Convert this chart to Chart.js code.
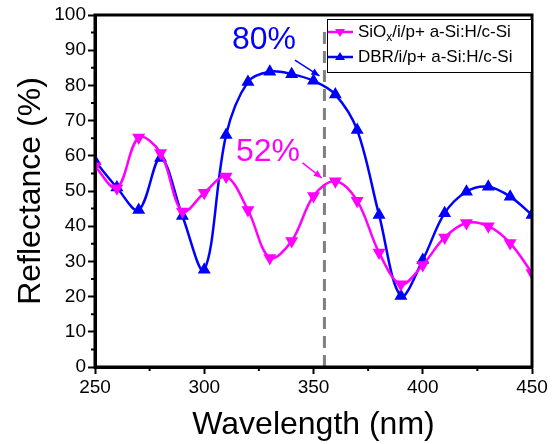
<!DOCTYPE html>
<html>
<head>
<meta charset="utf-8">
<script src="https://cdn.jsdelivr.net/npm/chart.js@4/dist/chart.umd.min.js"></script>
<style>
html,body{margin:0;padding:0;background:#fff;}
#wrap{width:556px;height:444px;position:relative;}
</style>
</head>
<body>
<div id="wrap"><canvas id="c" width="556" height="444"></canvas></div>
<script>
const wavelengths = [250,260,270,280,290,300,310,320,330,340,350,360,370,380,390,400,410,420,430,440,450];
const sioxValues  = [57,50.8,65.2,60.8,44.2,49.5,54.1,44.6,31,35.8,48.6,52.8,47.2,32.5,23.5,29,36.8,40.9,40,35.2,26.7];
const dbrValues   = [58.5,51,44.6,59.4,42.9,27.6,65.9,81,83.9,83.2,81.3,77.4,67.3,43.2,20.2,30.4,43.7,49.8,51.2,48.4,43.2];
const xTickValues = [250,300,350,400,450];
const yTickValues = [0,10,20,30,40,50,60,70,80,90,100];
const seriesNames = ["SiOx/i/p+ a-Si:H/c-Si","DBR/i/p+ a-Si:H/c-Si"];
const markedWavelength = 355;
const annotations = [{text:"80%", series:1}, {text:"52%", series:0}];

const MAGENTA = "#ff00ff", BLUE = "#0000ff";
const FONT = "'Liberation Sans', Arial, sans-serif";

function pts(vals){ return wavelengths.map((w,i)=>({x:w,y:vals[i]})); }

const extras = {
  id:'extras',
  beforeDatasetsDraw(chart){
    const {ctx, chartArea:a, scales:{x,y}} = chart;
    const px = x.getPixelForValue(markedWavelength);
    ctx.save();
    ctx.strokeStyle = "#808080";
    ctx.lineWidth = 3;
    ctx.setLineDash([12,7]);
    ctx.beginPath();
    ctx.moveTo(px, a.bottom);
    ctx.lineTo(px, y.getPixelForValue(96.3));
    ctx.stroke();
    ctx.restore();
  },
  afterDraw(chart){
    const {ctx, chartArea:a, scales:{x,y}} = chart;
    ctx.save();
    // frame
    ctx.strokeStyle = "#000";
    ctx.lineWidth = 3;
    ctx.strokeRect(a.left, a.top, a.right-a.left, a.bottom-a.top);
    // minor ticks
    ctx.lineWidth = 2;
    ctx.beginPath();
    for(let v=275; v<450; v+=50){
      const p = x.getPixelForValue(v);
      ctx.moveTo(p, a.bottom); ctx.lineTo(p, a.bottom+4);
    }
    for(let v=5; v<100; v+=10){
      const p = y.getPixelForValue(v);
      ctx.moveTo(a.left, p); ctx.lineTo(a.left-4, p);
    }
    ctx.stroke();

    // annotations
    function arrow(x1,y1,x2,y2,color){
      ctx.strokeStyle = color; ctx.fillStyle = color; ctx.lineWidth = 1.5;
      ctx.beginPath(); ctx.moveTo(x1,y1); ctx.lineTo(x2,y2); ctx.stroke();
      const ang = Math.atan2(y2-y1,x2-x1), L=8, W=3.5;
      ctx.beginPath();
      ctx.moveTo(x2,y2);
      ctx.lineTo(x2-L*Math.cos(ang)+W*Math.sin(ang), y2-L*Math.sin(ang)-W*Math.cos(ang));
      ctx.lineTo(x2-L*Math.cos(ang)-W*Math.sin(ang), y2-L*Math.sin(ang)+W*Math.cos(ang));
      ctx.closePath(); ctx.fill();
    }
    ctx.font = "32px " + FONT;
    ctx.textBaseline = "alphabetic";
    ctx.textAlign = "left";
    ctx.fillStyle = BLUE;
    ctx.fillText(annotations[0].text, x.getPixelForValue(312.7), y.getPixelForValue(90.3));
    arrow(x.getPixelForValue(341.5), y.getPixelForValue(87.2), x.getPixelForValue(352.7), y.getPixelForValue(82.7), BLUE);
    ctx.fillStyle = MAGENTA;
    ctx.fillText(annotations[1].text, x.getPixelForValue(314.5), y.getPixelForValue(58.6));
    arrow(x.getPixelForValue(345), y.getPixelForValue(58), x.getPixelForValue(353.8), y.getPixelForValue(53.7), MAGENTA);

    // legend
    const lx = 327, ly = 19, lw = 204, lh = 53;
    ctx.fillStyle = "#fff";
    ctx.fillRect(lx, ly, lw, lh);
    ctx.strokeStyle = "#000"; ctx.lineWidth = 1;
    ctx.strokeRect(lx+0.5, ly+0.5, lw, lh);
    const rows = [{c:MAGENTA, down:true, y:ly+13}, {c:BLUE, down:false, y:ly+38}];
    rows.forEach((r,i)=>{
      ctx.strokeStyle = r.c; ctx.fillStyle = r.c; ctx.lineWidth = 2.5;
      ctx.beginPath(); ctx.moveTo(lx+1, r.y); ctx.lineTo(lx+26, r.y); ctx.stroke();
      const cx = lx+13, s = 5;
      ctx.beginPath();
      if(r.down){ ctx.moveTo(cx-s, r.y-s*0.6); ctx.lineTo(cx+s, r.y-s*0.6); ctx.lineTo(cx, r.y+s); }
      else { ctx.moveTo(cx-s, r.y+s*0.6); ctx.lineTo(cx+s, r.y+s*0.6); ctx.lineTo(cx, r.y-s); }
      ctx.closePath(); ctx.fill();
      ctx.fillStyle = "#000";
      ctx.font = "17px " + FONT;
      ctx.textBaseline = "middle";
      let tx = lx+31;
      if(i===0){
        ctx.fillText("SiO", tx, r.y); tx += ctx.measureText("SiO").width;
        ctx.font = "12px " + FONT;
        ctx.fillText("x", tx, r.y+6); tx += ctx.measureText("x").width;
        ctx.font = "17px " + FONT;
        ctx.fillText("/i/p+ a-Si:H/c-Si", tx, r.y);
      } else {
        ctx.fillText(seriesNames[1], tx, r.y);
      }
    });
    ctx.restore();
  }
};

new Chart(document.getElementById('c'), {
  type:'line',
  data:{
    datasets:[
      {label:seriesNames[0], data:pts(sioxValues), borderColor:MAGENTA, backgroundColor:MAGENTA,
       borderWidth:2.5, tension:0.35, pointStyle:'triangle', rotation:180, pointRadius:5, pointHoverRadius:5},
      {label:seriesNames[1], data:pts(dbrValues), borderColor:BLUE, backgroundColor:BLUE,
       borderWidth:2.5, tension:0.35, pointStyle:'triangle', pointRadius:5, pointHoverRadius:5}
    ]
  },
  options:{
    responsive:false, animation:false, devicePixelRatio:1,
    layout:{padding:{top:15, right:24, left:0, bottom:0}},
    plugins:{legend:{display:false}, tooltip:{enabled:false}},
    scales:{
      x:{type:'linear', min:250, max:450,
         afterBuildTicks(s){ s.ticks = xTickValues.map(v=>({value:v})); },
         afterFit(s){ s.height = 77; },
         grid:{drawOnChartArea:false, drawTicks:true, tickLength:7, tickWidth:2, tickColor:'#000'},
         border:{display:true, color:'#000', width:3},
         ticks:{color:'#000', font:{family:FONT, size:19}, padding:2, maxRotation:0},
         title:{display:true, text:'Wavelength (nm)', color:'#000', font:{family:FONT, size:32}, padding:{top:0,bottom:0}}
      },
      y:{type:'linear', min:0, max:100,
         afterBuildTicks(s){ s.ticks = yTickValues.map(v=>({value:v})); },
         afterFit(s){ s.width = 95; },
         grid:{drawOnChartArea:false, drawTicks:true, tickLength:7, tickWidth:2, tickColor:'#000'},
         border:{display:true, color:'#000', width:3},
         ticks:{color:'#000', font:{family:FONT, size:19}, padding:2},
         title:{display:true, text:'Reflectance (%)', color:'#000', font:{family:FONT, size:32}, padding:{top:12,bottom:0}}
      }
    }
  },
  plugins:[extras]
});
</script>
</body>
</html>
